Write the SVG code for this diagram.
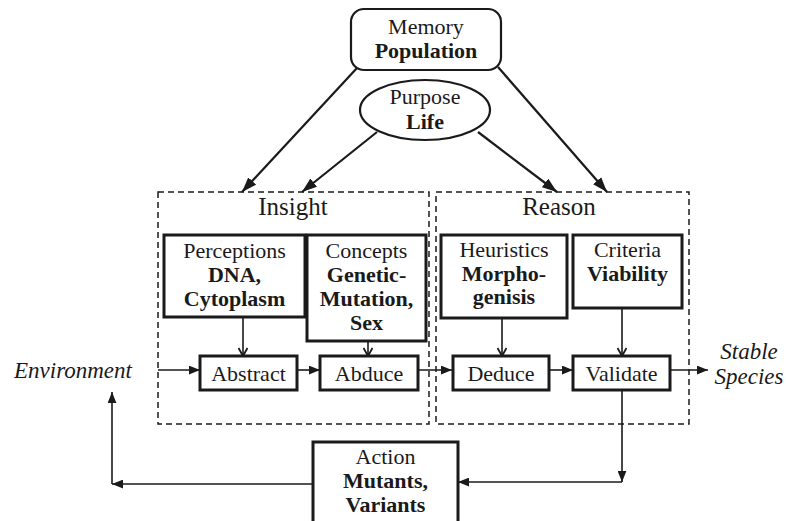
<svg xmlns="http://www.w3.org/2000/svg" width="786" height="521" viewBox="0 0 786 521">
  <defs>
    <style>
      text { font-family: "Liberation Serif", "Times New Roman", serif; fill: #1a1a1a; text-anchor: middle; }
      .lbl { font-size: 22px; }
      .b { font-weight: bold; }
      .head { font-size: 25px; }
      .it { font-style: italic; font-size: 23px; }
      .box { fill: #fff; stroke: #1a1a1a; stroke-width: 3; }
      .thin { fill: #fff; stroke: #1a1a1a; stroke-width: 2.2; }
      .group { fill: none; stroke: #1a1a1a; stroke-width: 1.5; stroke-dasharray: 6 4; }
      .wire { fill: none; stroke: #1a1a1a; stroke-width: 1.6; }
      .heavy { fill: none; stroke: #1a1a1a; stroke-width: 2.2; }
    </style>
    <marker id="tri" viewBox="0 0 10 8" refX="10" refY="4" markerWidth="11" markerHeight="9" markerUnits="userSpaceOnUse" orient="auto">
      <path d="M0,0 L10,4 L0,8 Z" fill="#1a1a1a"/>
    </marker>
    <marker id="bigtri" viewBox="0 0 14 10" refX="14" refY="5" markerWidth="15" markerHeight="11" markerUnits="userSpaceOnUse" orient="auto">
      <path d="M0,0 L14,5 L0,10 Z" fill="#1a1a1a"/>
    </marker>
    <marker id="vee" viewBox="0 0 10 10" refX="9" refY="5" markerWidth="10" markerHeight="10" markerUnits="userSpaceOnUse" orient="auto">
      <path d="M1,0.5 L9,5 L1,9.5" fill="none" stroke="#1a1a1a" stroke-width="1.8"/>
    </marker>
  </defs>

  <rect width="786" height="521" fill="#fff"/>

  <!-- dashed groupings -->
  <g id="insight">
    <rect class="group" x="158" y="192" width="271" height="232"/>
    <text class="head" x="293" y="215">Insight</text>
  </g>
  <g id="reason">
    <rect class="group" x="436" y="192" width="253" height="232"/>
    <text class="head" x="559" y="215">Reason</text>
  </g>

  <!-- connectors -->
  <g id="connectors">
    <line class="heavy" x1="357" y1="68" x2="242" y2="192" marker-end="url(#bigtri)"/>
    <line class="heavy" x1="377" y1="132" x2="302" y2="192" marker-end="url(#bigtri)"/>
    <line class="heavy" x1="478" y1="132" x2="557" y2="192" marker-end="url(#bigtri)"/>
    <line class="heavy" x1="498" y1="67" x2="607" y2="192" marker-end="url(#bigtri)"/>

    <line class="wire" x1="243" y1="317" x2="243" y2="356" marker-end="url(#vee)"/>
    <line class="wire" x1="368" y1="341" x2="368" y2="356" marker-end="url(#vee)"/>
    <line class="wire" x1="502" y1="318" x2="502" y2="356" marker-end="url(#vee)"/>
    <line class="wire" x1="622" y1="308" x2="622" y2="356" marker-end="url(#vee)"/>

    <line class="wire" x1="158" y1="370" x2="200" y2="370" marker-end="url(#tri)"/>
    <line class="wire" x1="297" y1="370" x2="320" y2="370" marker-end="url(#tri)"/>
    <line class="wire" x1="418" y1="370" x2="452" y2="370" marker-end="url(#tri)"/>
    <line class="wire" x1="549" y1="370" x2="573" y2="370" marker-end="url(#tri)"/>
    <line class="wire" x1="670" y1="370" x2="708" y2="370" marker-end="url(#tri)"/>

    <line class="wire" x1="622" y1="390" x2="622" y2="482" marker-end="url(#tri)"/>
    <line class="wire" x1="622" y1="482" x2="458" y2="482" marker-end="url(#tri)"/>
    <line class="wire" x1="313" y1="484" x2="112" y2="484" marker-end="url(#tri)"/>
    <line class="wire" x1="112" y1="484" x2="112" y2="392" marker-end="url(#tri)"/>
  </g>

  <!-- top nodes -->
  <g id="memory">
    <rect class="thin" x="351" y="9" width="150" height="61" rx="13"/>
    <text class="lbl" x="426" y="34">Memory</text>
    <text class="lbl b" x="426" y="58">Population</text>
  </g>
  <g id="purpose">
    <ellipse class="thin" cx="425" cy="110" rx="65" ry="30"/>
    <text class="lbl" x="425" y="104">Purpose</text>
    <text class="lbl b" x="425" y="129">Life</text>
  </g>

  <!-- knowledge boxes -->
  <g id="perceptions">
    <rect class="box" x="164" y="235" width="141" height="82"/>
    <text class="lbl" x="234.5" y="258">Perceptions</text>
    <text class="lbl b" x="234.5" y="282">DNA,</text>
    <text class="lbl b" x="234.5" y="306">Cytoplasm</text>
  </g>
  <g id="concepts">
    <rect class="box" x="307" y="235" width="119" height="106"/>
    <text class="lbl" x="366.5" y="258">Concepts</text>
    <text class="lbl b" x="366.5" y="282">Genetic-</text>
    <text class="lbl b" x="366.5" y="306">Mutation,</text>
    <text class="lbl b" x="366.5" y="330">Sex</text>
  </g>
  <g id="heuristics">
    <rect class="box" x="441" y="235" width="126" height="83"/>
    <text class="lbl" x="504" y="257">Heuristics</text>
    <text class="lbl b" x="504" y="281">Morpho-</text>
    <text class="lbl b" x="504" y="304">genisis</text>
  </g>
  <g id="criteria">
    <rect class="box" x="573" y="235" width="109" height="73"/>
    <text class="lbl" x="627.5" y="257">Criteria</text>
    <text class="lbl b" x="627.5" y="281">Viability</text>
  </g>

  <!-- process steps -->
  <g id="abstract">
    <rect class="box" x="200" y="356" width="97" height="34"/>
    <text class="lbl" x="248.5" y="381">Abstract</text>
  </g>
  <g id="abduce">
    <rect class="box" x="320" y="356" width="98" height="34"/>
    <text class="lbl" x="369" y="381">Abduce</text>
  </g>
  <g id="deduce">
    <rect class="box" x="453" y="356" width="96" height="34"/>
    <text class="lbl" x="501" y="381">Deduce</text>
  </g>
  <g id="validate">
    <rect class="box" x="573" y="356" width="97" height="34"/>
    <text class="lbl" x="621.5" y="381">Validate</text>
  </g>

  <!-- action -->
  <g id="action">
    <rect class="box" x="313" y="442" width="145" height="84"/>
    <text class="lbl" x="385.5" y="464">Action</text>
    <text class="lbl b" x="385.5" y="488">Mutants,</text>
    <text class="lbl b" x="385.5" y="512">Variants</text>
  </g>

  <!-- outside terms -->
  <g id="environment">
    <text class="it" x="73" y="378">Environment</text>
  </g>
  <g id="stable-species">
    <text class="it" x="749" y="359">Stable</text>
    <text class="it" x="749" y="384">Species</text>
  </g>
</svg>
